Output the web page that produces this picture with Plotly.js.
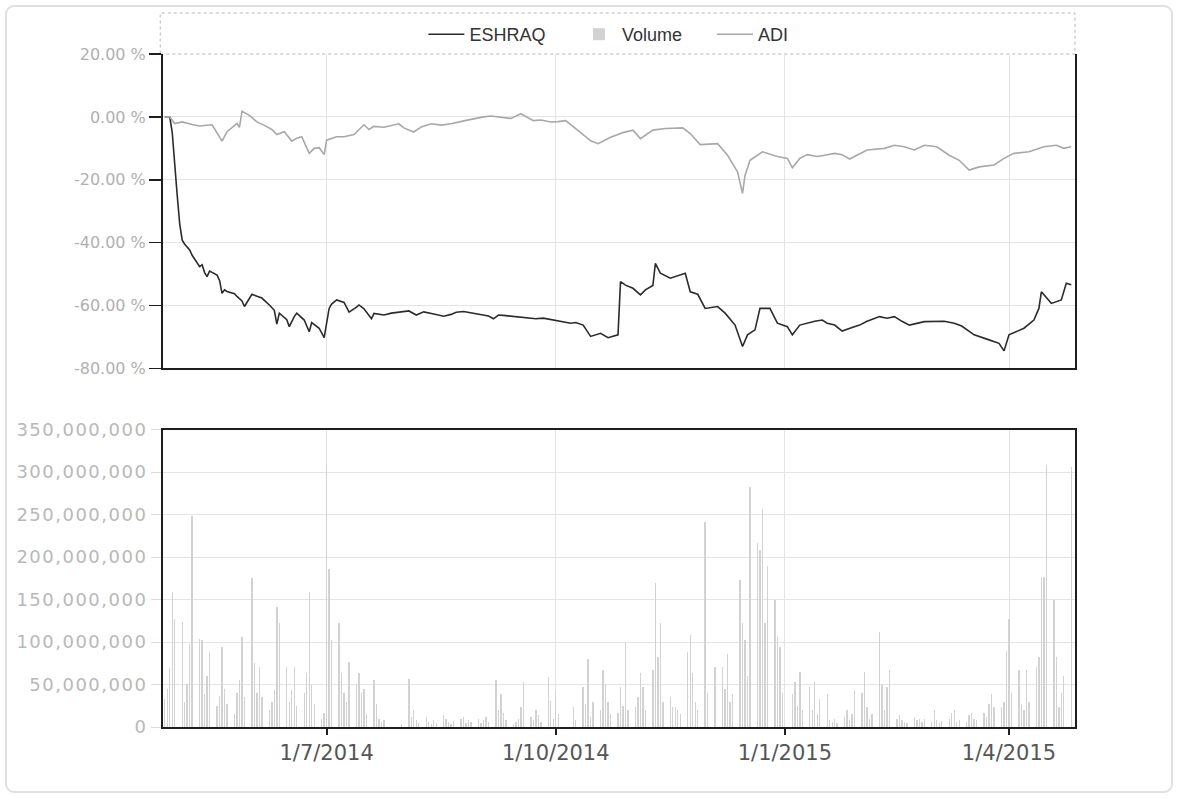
<!DOCTYPE html>
<html>
<head>
<meta charset="utf-8">
<script src="https://cdn.plot.ly/plotly-3.0.1.min.js"></script>
<style>
  html, body { margin: 0; padding: 0; background: #ffffff; }
  #wrap { position: relative; width: 1178px; height: 798px; }
  #chart { position: absolute; left: 0; top: 0; width: 1178px; height: 798px; }
  #frame { position: absolute; left: 5px; top: 5px; width: 1164px; height: 784px;
           border: 2px solid #e0e0e0; border-radius: 9px; pointer-events: none; }
  .y2tick text { letter-spacing: 1.5px; }
</style>
</head>
<body>
<div id="wrap">
  <div id="chart"></div>
  <div id="frame"></div>
</div>
<script>
// ---------- DATA ----------
const eshraqDates = ["2014-04-27","2014-04-28","2014-04-29","2014-04-30","2014-05-01","2014-05-02","2014-05-03","2014-05-04","2014-05-05","2014-05-07","2014-05-08","2014-05-11","2014-05-12","2014-05-13","2014-05-14","2014-05-15","2014-05-18","2014-05-19","2014-05-20","2014-05-21","2014-05-22","2014-05-25","2014-05-26","2014-05-28","2014-05-29","2014-06-01","2014-06-03","2014-06-05","2014-06-08","2014-06-10","2014-06-11","2014-06-12","2014-06-15","2014-06-16","2014-06-18","2014-06-19","2014-06-22","2014-06-24","2014-06-25","2014-06-26","2014-06-28","2014-06-30","2014-07-02","2014-07-03","2014-07-05","2014-07-08","2014-07-10","2014-07-13","2014-07-14","2014-07-16","2014-07-19","2014-07-20","2014-07-24","2014-07-27","2014-07-30","2014-08-03","2014-08-06","2014-08-09","2014-08-13","2014-08-17","2014-08-20","2014-08-22","2014-08-25","2014-08-29","2014-09-02","2014-09-04","2014-09-06","2014-09-08","2014-09-11","2014-09-15","2014-09-19","2014-09-23","2014-09-26","2014-09-30","2014-10-02","2014-10-07","2014-10-09","2014-10-12","2014-10-15","2014-10-19","2014-10-22","2014-10-26","2014-10-27","2014-10-29","2014-11-01","2014-11-04","2014-11-06","2014-11-09","2014-11-10","2014-11-12","2014-11-16","2014-11-19","2014-11-22","2014-11-24","2014-11-27","2014-11-30","2014-12-05","2014-12-08","2014-12-12","2014-12-15","2014-12-17","2014-12-20","2014-12-22","2014-12-26","2014-12-29","2015-01-02","2015-01-04","2015-01-07","2015-01-10","2015-01-13","2015-01-16","2015-01-18","2015-01-21","2015-01-24","2015-01-28","2015-01-31","2015-02-03","2015-02-08","2015-02-11","2015-02-14","2015-02-17","2015-02-20","2015-02-26","2015-03-03","2015-03-06","2015-03-10","2015-03-13","2015-03-18","2015-03-21","2015-03-24","2015-03-28","2015-03-30","2015-04-01","2015-04-07","2015-04-11","2015-04-13","2015-04-14","2015-04-18","2015-04-22","2015-04-24","2015-04-26"];
const eshraqPct = [0,0,0,-5,-16,-25,-34,-39.2,-40.5,-42.3,-44.0,-47.6,-47.0,-49.5,-50.8,-49.0,-50.3,-52.0,-56.1,-55.0,-55.5,-56.2,-57.1,-58.5,-60.3,-56.4,-57.0,-57.6,-59.8,-61.5,-65.9,-62.4,-64.5,-66.7,-63.5,-62.4,-64.6,-68.3,-65.4,-66.0,-67.2,-70.2,-60.9,-59.5,-58.2,-59.0,-62.1,-60.5,-59.8,-61.0,-64.2,-62.5,-63.0,-62.4,-62.1,-61.7,-63.0,-62.0,-62.7,-63.4,-62.8,-62.1,-61.9,-62.4,-62.9,-63.3,-64.2,-63.0,-63.2,-63.5,-63.8,-64.2,-64.0,-64.6,-64.9,-65.6,-65.4,-66.2,-69.8,-68.8,-70.2,-69.3,-52.4,-53.5,-54.5,-56.6,-55.0,-53.6,-46.6,-49.7,-51.3,-50.5,-49.7,-55.6,-56.4,-60.9,-60.3,-62.4,-66.2,-73.0,-69.3,-67.7,-60.9,-60.9,-65.6,-66.7,-69.3,-66.2,-65.5,-65.0,-64.6,-65.6,-66.2,-68.1,-67.0,-66.2,-65.0,-63.5,-64.0,-63.5,-65.0,-66.2,-65.1,-65.1,-65.0,-65.6,-66.5,-69.3,-70.0,-70.9,-72.0,-74.4,-69.3,-67.2,-64.6,-60.9,-55.6,-59.3,-58.2,-52.9,-53.4];

const adiDates = ["2014-04-27","2014-04-29","2014-05-01","2014-05-04","2014-05-08","2014-05-11","2014-05-16","2014-05-20","2014-05-22","2014-05-26","2014-05-27","2014-05-28","2014-05-31","2014-06-03","2014-06-06","2014-06-09","2014-06-11","2014-06-14","2014-06-17","2014-06-19","2014-06-21","2014-06-24","2014-06-26","2014-06-28","2014-06-30","2014-07-01","2014-07-05","2014-07-08","2014-07-12","2014-07-16","2014-07-18","2014-07-20","2014-07-24","2014-07-30","2014-08-01","2014-08-05","2014-08-08","2014-08-12","2014-08-16","2014-08-20","2014-08-26","2014-08-30","2014-09-02","2014-09-05","2014-09-09","2014-09-13","2014-09-17","2014-09-22","2014-09-25","2014-09-29","2014-10-02","2014-10-05","2014-10-11","2014-10-15","2014-10-18","2014-10-23","2014-10-26","2014-10-28","2014-11-01","2014-11-04","2014-11-09","2014-11-14","2014-11-21","2014-11-24","2014-11-28","2014-12-05","2014-12-09","2014-12-13","2014-12-15","2014-12-16","2014-12-18","2014-12-23","2014-12-29","2015-01-02","2015-01-04","2015-01-07","2015-01-10","2015-01-14","2015-01-17","2015-01-21","2015-01-24","2015-01-27","2015-02-03","2015-02-06","2015-02-10","2015-02-14","2015-02-18","2015-02-22","2015-02-26","2015-03-03","2015-03-05","2015-03-08","2015-03-12","2015-03-16","2015-03-20","2015-03-26","2015-03-30","2015-04-03","2015-04-09","2015-04-15","2015-04-20","2015-04-23","2015-04-26"];
const adiPct = [0,0,-2.1,-1.6,-2.4,-2.9,-2.5,-7.7,-4.7,-2.1,-3.3,1.8,0.5,-1.6,-2.7,-4.0,-5.6,-4.7,-7.7,-6.8,-6.3,-11.6,-10.0,-9.8,-12.0,-7.4,-6.3,-6.3,-5.6,-2.5,-4.0,-3.0,-3.3,-2.2,-3.5,-4.8,-3.2,-2.2,-2.6,-2.2,-1.1,-0.4,0,0.3,0,-0.5,1.0,-1.2,-1.0,-1.6,-1.5,-1.2,-5.0,-7.6,-8.5,-6.5,-5.6,-5.0,-4.2,-6.9,-4.2,-3.7,-3.5,-5.3,-8.8,-8.5,-12.2,-17.5,-24.3,-18.6,-13.8,-11.1,-12.6,-13.2,-16.2,-13.2,-12.0,-12.6,-12.2,-11.6,-12.0,-13.4,-10.5,-10.2,-10.0,-9.0,-9.5,-10.5,-9.0,-9.5,-10.5,-12.2,-13.8,-16.9,-15.9,-15.3,-13.2,-11.6,-11.1,-9.5,-9.0,-10.0,-9.5];

// volume in millions of shares
const volDates = ["2014-04-27","2014-04-28","2014-04-29","2014-04-30","2014-05-01","2014-05-04","2014-05-05","2014-05-06","2014-05-07","2014-05-08","2014-05-11","2014-05-12","2014-05-13","2014-05-14","2014-05-15","2014-05-18","2014-05-19","2014-05-20","2014-05-21","2014-05-22","2014-05-25","2014-05-26","2014-05-27","2014-05-28","2014-05-29","2014-06-01","2014-06-02","2014-06-03","2014-06-04","2014-06-05","2014-06-08","2014-06-09","2014-06-10","2014-06-11","2014-06-12","2014-06-15","2014-06-16","2014-06-17","2014-06-18","2014-06-19","2014-06-22","2014-06-23","2014-06-24","2014-06-25","2014-06-26","2014-06-29","2014-06-30","2014-07-01","2014-07-02","2014-07-03","2014-07-06","2014-07-07","2014-07-08","2014-07-09","2014-07-10","2014-07-13","2014-07-14","2014-07-15","2014-07-16","2014-07-17","2014-07-20","2014-07-21","2014-07-22","2014-07-23","2014-07-24","2014-07-31","2014-08-03","2014-08-04","2014-08-05","2014-08-06","2014-08-07","2014-08-10","2014-08-11","2014-08-12","2014-08-13","2014-08-14","2014-08-17","2014-08-18","2014-08-19","2014-08-20","2014-08-21","2014-08-24","2014-08-25","2014-08-26","2014-08-27","2014-08-28","2014-08-31","2014-09-01","2014-09-02","2014-09-03","2014-09-04","2014-09-07","2014-09-08","2014-09-09","2014-09-10","2014-09-11","2014-09-14","2014-09-15","2014-09-16","2014-09-17","2014-09-18","2014-09-21","2014-09-22","2014-09-23","2014-09-24","2014-09-25","2014-09-28","2014-09-29","2014-09-30","2014-10-01","2014-10-02","2014-10-08","2014-10-09","2014-10-12","2014-10-13","2014-10-14","2014-10-15","2014-10-16","2014-10-19","2014-10-20","2014-10-21","2014-10-22","2014-10-23","2014-10-26","2014-10-27","2014-10-28","2014-10-29","2014-10-30","2014-11-02","2014-11-03","2014-11-04","2014-11-05","2014-11-06","2014-11-09","2014-11-10","2014-11-11","2014-11-12","2014-11-13","2014-11-16","2014-11-17","2014-11-18","2014-11-19","2014-11-20","2014-11-23","2014-11-24","2014-11-25","2014-11-26","2014-11-27","2014-11-30","2014-12-01","2014-12-04","2014-12-07","2014-12-08","2014-12-09","2014-12-10","2014-12-11","2014-12-14","2014-12-15","2014-12-16","2014-12-17","2014-12-18","2014-12-21","2014-12-22","2014-12-23","2014-12-24","2014-12-25","2014-12-28","2014-12-29","2014-12-30","2014-12-31","2015-01-04","2015-01-05","2015-01-06","2015-01-07","2015-01-08","2015-01-11","2015-01-12","2015-01-13","2015-01-14","2015-01-15","2015-01-18","2015-01-19","2015-01-20","2015-01-21","2015-01-22","2015-01-25","2015-01-26","2015-01-27","2015-01-28","2015-01-29","2015-02-01","2015-02-02","2015-02-03","2015-02-04","2015-02-05","2015-02-08","2015-02-09","2015-02-10","2015-02-11","2015-02-12","2015-02-15","2015-02-16","2015-02-17","2015-02-18","2015-02-19","2015-02-22","2015-02-23","2015-02-24","2015-02-25","2015-02-26","2015-03-01","2015-03-02","2015-03-03","2015-03-04","2015-03-05","2015-03-08","2015-03-09","2015-03-10","2015-03-11","2015-03-12","2015-03-15","2015-03-16","2015-03-17","2015-03-18","2015-03-19","2015-03-22","2015-03-23","2015-03-24","2015-03-25","2015-03-26","2015-03-29","2015-03-30","2015-03-31","2015-04-01","2015-04-02","2015-04-05","2015-04-06","2015-04-07","2015-04-08","2015-04-09","2015-04-12","2015-04-13","2015-04-14","2015-04-15","2015-04-16","2015-04-19","2015-04-20","2015-04-21","2015-04-22","2015-04-23","2015-04-26"];
const volMillions = [33,45,70,159,127,124,30,51,98,248,104,102,39,60,88,25,37,94,45,27,15,40,55,106,35,175,75,40,71,35,20,30,43,141,122,71,30,43,71,25,40,63,159,50,27,10,16,310,186,102,122,63,40,30,76,51,63,40,45,15,55,27,10,6,8,4,57,12,20,8,5,12,6,4,8,5,14,10,6,4,7,9,12,5,8,6,10,5,8,12,6,55,20,39,16,8,4,6,10,24,53,12,8,20,14,6,59,31,10,43,15,24,8,47,27,80,12,30,20,67,51,30,15,16,47,25,100,20,24,35,63,47,20,67,169,82,122,30,35,24,24,20,15,88,108,63,30,20,241,40,71,71,45,86,30,39,173,122,102,60,282,216,208,257,122,190,149,106,94,40,39,53,25,65,20,47,20,53,15,33,39,8,6,10,5,12,20,8,15,43,40,65,24,10,15,112,51,20,47,67,10,14,8,6,5,12,8,10,6,9,6,20,8,5,7,10,16,20,6,8,6,14,16,10,8,16,12,27,39,24,24,30,90,127,40,67,27,20,67,30,71,82,176,176,308,149,82,24,40,60,306];

const yPctTickVals = [20, 0, -20, -40, -60, -80];
const yPctTickText = ["20.00 %", "0.00 %", "-20.00 %", "-40.00 %", "-60.00 %", "-80.00 %"];
const yVolTickVals = [0, 50e6, 100e6, 150e6, 200e6, 250e6, 300e6, 350e6];
const yVolTickText = ["0", "50,000,000", "100,000,000", "150,000,000", "200,000,000", "250,000,000", "300,000,000", "350,000,000"];
const xTickVals = ["2014-07-01", "2014-10-01", "2015-01-01", "2015-04-01"];
const xTickText = ["1/7/2014", "1/10/2014", "1/1/2015", "1/4/2015"];
const xRange = ["2014-04-26 07:00", "2015-04-27 12:00"];

// ---------- CHART ----------
const traces = [
  { name: "ESHRAQ", type: "scatter", mode: "lines", x: eshraqDates, y: eshraqPct,
    xaxis: "x", yaxis: "y", legend: "legend", line: { color: "#2b2b2b", width: 1.6 } },
  { name: "Volume", type: "bar", x: volDates, y: volMillions.map(v => v * 1e6),
    xaxis: "x2", yaxis: "y2", legend: "legend2", width: 0.55 * 86400000,
    marker: { color: "#d2d2d2", line: { width: 0 } } },
  { name: "ADI", type: "scatter", mode: "lines", x: adiDates, y: adiPct,
    xaxis: "x", yaxis: "y", legend: "legend3", line: { color: "#a8a8a8", width: 1.6 } }
];

const gridC = "#e4e4e4";
const frameC = "#1e1e1e";
const legFont = { family: "Liberation Sans, Arial, sans-serif", size: 18, color: "#333" };
const legBase = { orientation: "h", yanchor: "middle", y: 1.029, xanchor: "left",
                  font: legFont, bgcolor: "rgba(0,0,0,0)", itemwidth: 36 };
const layout = {
  width: 1178, height: 798,
  paper_bgcolor: "rgba(0,0,0,0)", plot_bgcolor: "#ffffff",
  margin: { l: 163, r: 103, t: 54, b: 71, autoexpand: false },
  showlegend: true,
  legend: Object.assign({}, legBase, { x: 0.2855 }),
  legend2: Object.assign({}, legBase, { x: 0.4528 }),
  legend3: Object.assign({}, legBase, { x: 0.6020 }),
  xaxis: { type: "date", range: xRange, anchor: "y", domain: [0, 1],
           tickvals: xTickVals, ticktext: xTickText, showticklabels: false, ticks: "",
           showgrid: true, gridcolor: gridC, gridwidth: 1,
           showline: true, linecolor: frameC, linewidth: 2, mirror: false, zeroline: false },
  yaxis: { range: [-80, 20], domain: [0.5327, 1], anchor: "x",
           tickvals: yPctTickVals, ticktext: yPctTickText,
           ticks: "outside", ticklen: 12, tickcolor: frameC, tickwidth: 1.5,
           tickfont: { family: "DejaVu Sans, sans-serif", size: 16, color: "#b0b0b0" },
           showgrid: true, gridcolor: gridC, gridwidth: 1,
           showline: true, linecolor: frameC, linewidth: 2, mirror: true, zeroline: false },
  xaxis2: { type: "date", range: xRange, anchor: "y2", domain: [0, 1],
            tickvals: xTickVals, ticktext: xTickText,
            ticks: "outside", ticklen: 6, tickcolor: frameC, tickwidth: 2,
            tickfont: { family: "DejaVu Sans, sans-serif", size: 21, color: "#555" },
            showgrid: true, gridcolor: gridC, gridwidth: 1,
            showline: true, linecolor: frameC, linewidth: 2, mirror: true, zeroline: false },
  yaxis2: { range: [0, 350e6], domain: [0, 0.442], anchor: "x2",
            tickvals: yVolTickVals, ticktext: yVolTickText,
            ticks: "outside", ticklen: 10, tickcolor: "#dcdcdc", tickwidth: 1,
            tickfont: { family: "DejaVu Sans, sans-serif", size: 18, color: "#b8b8b8" },
            showgrid: true, gridcolor: gridC, gridwidth: 1,
            showline: true, linecolor: frameC, linewidth: 2, mirror: true, zeroline: false },
  bargap: 0,
  shapes: [
    { type: "rect", xref: "paper", yref: "paper", x0: -0.003, x1: 1.0, y0: 1.0, y1: 1.0609,
      line: { color: "#b5b5b5", width: 1, dash: "dot" }, fillcolor: "rgba(0,0,0,0)", layer: "below" }
  ]
};

Plotly.newPlot("chart", traces, layout, { staticPlot: true, displayModeBar: false });
</script>
</body>
</html>
